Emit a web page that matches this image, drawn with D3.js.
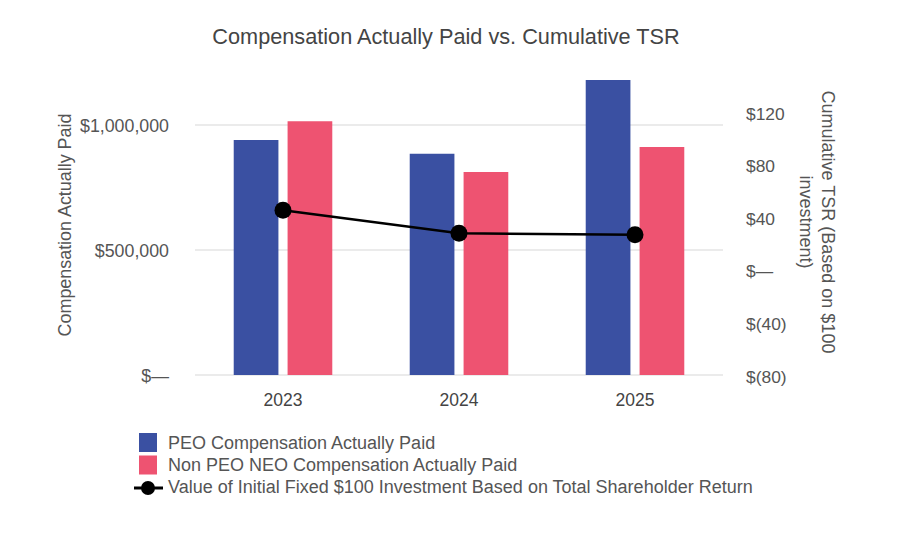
<!DOCTYPE html>
<html>
<head>
<meta charset="utf-8">
<script src="https://cdn.jsdelivr.net/npm/d3@7"></script>
<style>
  body { margin: 0; background: #fff; }
  text { font-family: "Liberation Sans", Arial, sans-serif; }
</style>
</head>
<body>
<div id="chart"></div>
<script>
/* Compensation Actually Paid vs. Cumulative TSR */

const years = ["2023", "2024", "2025"];
const peoCap = [940000, 885000, 1180000];
const neoCap = [1015000, 812000, 912000];
const tsr = [46, 28.5, 27.5];
const leftTicks = [0, 500000, 1000000];
const rightTicks = [-80, -40, 0, 40, 80, 120];
const seriesNames = ["PEO Compensation Actually Paid", "Non PEO NEO Compensation Actually Paid"];
const lineName = "Value of Initial Fixed $100 Investment Based on Total Shareholder Return";

const width = 900,
      height = 558,
      margin = ({ top: 80, right: 177, bottom: 183, left: 195 });

const colors = ["#3a50a2", "#ee5371"];
const textColor = "#555";

const svg = d3.select("#chart")
    .append("svg")
    .attr("width", width)
    .attr("height", height)
    .attr("viewBox", [0, 0, width, height]);

const x0 = d3.scaleBand()
    .domain(years)
    .range([margin.left, width - margin.right])
    .paddingInner(0.44)
    .paddingOuter(0.22);

const x1 = d3.scaleBand()
    .domain([0, 1])
    .range([0, x0.bandwidth()])
    .paddingInner(0.17);

const y = d3.scaleLinear()
    .domain([0, 1000000])
    .range([375, 125]);

const y2 = d3.scaleLinear()
    .domain([-80, 120])
    .range([376, 113]);

const money = v => v === 0 ? "$\u2014" : (v < 0 ? "$(" + d3.format(",")(-v) + ")" : "$" + d3.format(",")(v));

// gridlines
svg.append("g")
    .selectAll("line")
    .data(leftTicks)
    .join("line")
    .attr("x1", margin.left)
    .attr("x2", width - margin.right)
    .attr("y1", d => y(d))
    .attr("y2", d => y(d))
    .attr("stroke", "#e4e4e4")
    .attr("stroke-width", 1.5);

// left axis
svg.append("g")
    .attr("transform", `translate(${margin.left - 23}, 0)`)
    .call(d3.axisLeft(y).tickValues(leftTicks).tickFormat(money).tickSize(0))
    .call(g => g.select(".domain").remove())
    .call(g => g.selectAll("text")
        .attr("fill", textColor)
        .attr("dy", "0.35em")
        .style("font-size", "17.8px"));

// right axis
svg.append("g")
    .attr("transform", `translate(${width - margin.right + 20}, 0)`)
    .call(d3.axisRight(y2).tickValues(rightTicks).tickFormat(money).tickSize(0))
    .call(g => g.select(".domain").remove())
    .call(g => g.selectAll("text")
        .attr("fill", textColor)
        .attr("dy", "0.35em")
        .style("font-size", "17.4px"));

// x axis
svg.append("g")
    .attr("transform", `translate(0, 391)`)
    .call(d3.axisBottom(x0).tickSize(0))
    .call(g => g.select(".domain").remove())
    .call(g => g.selectAll("text")
        .attr("fill", "#444")
        .attr("dy", "0.71em")
        .style("font-size", "17.5px"));

// bars
const group = svg.append("g")
    .selectAll("g")
    .data(years)
    .join("g")
    .attr("transform", d => `translate(${x0(d)}, 0)`);

group.selectAll("rect")
    .data((d, i) => [peoCap[i], neoCap[i]])
    .join("rect")
    .attr("x", (d, j) => x1(j))
    .attr("width", x1.bandwidth())
    .attr("y", d => y(d))
    .attr("height", d => y(0) - y(d))
    .attr("fill", (d, j) => colors[j]);

// TSR line
const cx = d => x0(d) + x0.bandwidth() / 2;
const line = d3.line()
    .x((d, i) => cx(years[i]))
    .y(d => y2(d));

svg.append("path")
    .datum(tsr)
    .attr("d", line)
    .attr("fill", "none")
    .attr("stroke", "#000")
    .attr("stroke-width", 2.5);

svg.append("g")
    .selectAll("circle")
    .data(tsr)
    .join("circle")
    .attr("cx", (d, i) => cx(years[i]))
    .attr("cy", d => y2(d))
    .attr("r", 8.5)
    .attr("fill", "#000");

// title
svg.append("text")
    .attr("x", 446)
    .attr("y", 44)
    .attr("text-anchor", "middle")
    .attr("fill", "#444")
    .style("font-size", "21.7px")
    .text("Compensation Actually Paid vs. Cumulative TSR");

// axis titles
svg.append("text")
    .attr("transform", "translate(71, 225) rotate(-90)")
    .attr("text-anchor", "middle")
    .attr("fill", textColor)
    .style("font-size", "17.9px")
    .text("Compensation Actually Paid");

const rTitle = svg.append("text")
    .attr("transform", "translate(822, 222) rotate(90)")
    .attr("text-anchor", "middle")
    .attr("fill", textColor)
    .style("font-size", "18px");
rTitle.append("tspan").attr("x", 0).attr("y", 0).text("Cumulative TSR (Based on $100");
rTitle.append("tspan").attr("x", 0).attr("y", 22).text("investment)");

// legend
const legend = svg.append("g")
    .attr("transform", "translate(139, 433)");

legend.selectAll("rect")
    .data(seriesNames)
    .join("rect")
    .attr("x", 0)
    .attr("y", (d, i) => i * 22.5)
    .attr("width", 18)
    .attr("height", 19)
    .attr("fill", (d, i) => colors[i]);

legend.selectAll("text")
    .data(seriesNames.concat([lineName]))
    .join("text")
    .attr("x", 29)
    .attr("y", (d, i) => 16 + i * 22)
    .attr("fill", textColor)
    .style("font-size", "18px")
    .text(d => d);

legend.append("line")
    .attr("x1", -5).attr("x2", 24)
    .attr("y1", 55).attr("y2", 55)
    .attr("stroke", "#000")
    .attr("stroke-width", 3);

legend.append("circle")
    .attr("cx", 9)
    .attr("cy", 55)
    .attr("r", 7)
    .attr("fill", "#000");
</script>
</body>
</html>
